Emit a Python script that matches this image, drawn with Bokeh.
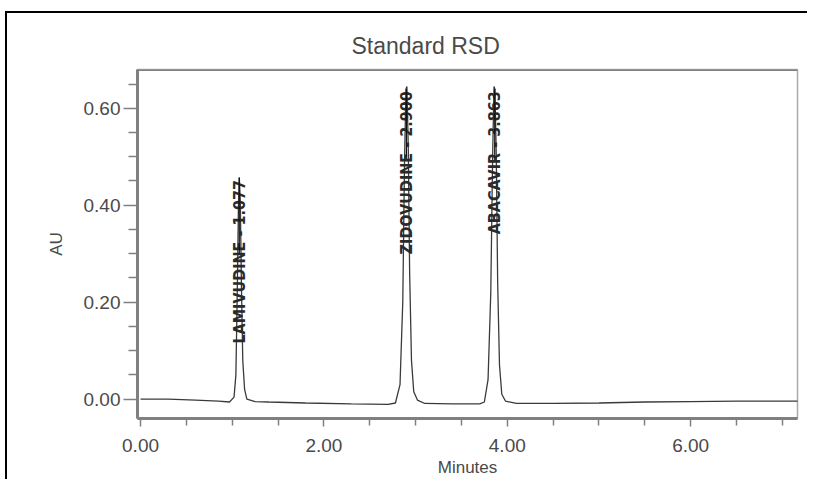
from bokeh.plotting import figure
from bokeh.models import FixedTicker, NumeralTickFormatter, ColumnDataSource, Span, Range1d
from bokeh.core.properties import value
from bokeh.embed import file_html
from bokeh.resources import INLINE

# Chromatogram trace (minutes, AU)
time_min = [0.00, 0.30, 0.60, 0.85, 0.97, 1.02, 1.04, 1.055, 1.068, 1.077, 1.088, 1.10, 1.115, 1.135,
            1.16, 1.25, 1.40, 1.80, 2.30, 2.70, 2.78, 2.83, 2.86, 2.88, 2.895, 2.905, 2.92,
            2.935, 2.955, 2.98, 3.02, 3.10, 3.40, 3.70, 3.75, 3.79, 3.82, 3.84, 3.855, 3.865,
            3.88, 3.895, 3.915, 3.94, 3.98, 4.10, 4.50, 5.00, 5.50, 6.00, 6.50, 7.17]
au = [0.000, 0.000, -0.002, -0.004, -0.006, 0.004, 0.05, 0.22, 0.40, 0.457, 0.41, 0.24, 0.08, 0.02,
      0.000, -0.005, -0.006, -0.008, -0.010, -0.011, -0.008, 0.03, 0.20, 0.50, 0.64, 0.645, 0.52,
      0.26, 0.08, 0.015, -0.002, -0.009, -0.010, -0.010, -0.006, 0.04, 0.22, 0.50, 0.645, 0.64,
      0.50, 0.24, 0.07, 0.01, -0.004, -0.009, -0.009, -0.008, -0.006, -0.005, -0.004, -0.004]

# Peak annotations
peak_names = ["LAMIVUDINE - 1.077", "ZIDOVUDINE - 2.900", "ABACAVIR - 3.863"]
peak_rt = [1.077, 2.900, 3.863]
peak_top = [0.452, 0.635, 0.635]

x_major = [0, 2, 4, 6]
x_minor = [0.5, 1.0, 1.5, 2.5, 3.0, 3.5, 4.5, 5.0, 5.5, 6.5, 7.0]
y_major = [0.0, 0.2, 0.4, 0.6]
y_minor = [0.05, 0.10, 0.15, 0.25, 0.30, 0.35, 0.45, 0.50, 0.55, 0.65]

TXT = "#4a4a4a"
AX = "#808080"

p = figure(width=800, height=468, output_backend="svg", toolbar_location=None,
           x_range=Range1d(-0.033, 7.165), y_range=Range1d(-0.04, 0.68),
           title="Standard RSD",
           styles={"border-left": "2px solid black", "border-top": "2px solid black",
                   "margin-top": "11px", "margin-left": "5px"})
p.min_border_left = 130
p.min_border_right = 10
p.min_border_top = 56
p.min_border_bottom = 60
p.frame_width = 660
p.frame_height = 349

p.title.align = "left"
p.title.offset = 214
p.title.text_font = "Liberation Sans"
p.title.text_font_size = "23px"
p.title.text_font_style = "normal"
p.title.text_color = TXT
p.title.standoff = 21

p.grid.visible = False
p.outline_line_color = "#aaaaaa"
p.outline_line_width = 1.5

p.line(time_min, au, line_color="#3a3a3a", line_width=1.3)

src = ColumnDataSource(dict(x=peak_rt, y=peak_top, t=peak_names))
p.text(x="x", y="y", text="t", source=src, angle=1.5708, text_align="right",
       text_baseline="middle", text_font=value("DejaVu Sans Condensed"),
       text_font_style="bold", text_font_size="16px", text_color="#2a2a2a")
p.segment(x0=peak_rt, y0=[0.3, 0.5, 0.5], x1=peak_rt, y1=[h + 0.005 for h in peak_top],
          line_color="#111111", line_width=1.2)

p.add_layout(Span(location=0.68, dimension="width", line_color=AX, line_width=3))

for ax in (p.xaxis[0], p.yaxis[0]):
    ax.axis_line_color = AX
    ax.axis_line_width = 3
    ax.major_tick_line_color = AX
    ax.minor_tick_line_color = AX
    ax.major_tick_line_width = 1.5
    ax.minor_tick_line_width = 1.5
    ax.major_tick_in = 0
    ax.minor_tick_in = 0
    ax.major_label_text_font = "Liberation Sans"
    ax.major_label_text_font_size = "19px"
    ax.major_label_text_color = TXT
    ax.axis_label_text_font = "Liberation Sans"
    ax.axis_label_text_font_style = "normal"
    ax.axis_label_text_font_size = "17px"
    ax.axis_label_text_color = TXT
    ax.formatter = NumeralTickFormatter(format="0.00")

p.xaxis.ticker = FixedTicker(ticks=x_major, minor_ticks=x_minor)
p.yaxis.ticker = FixedTicker(ticks=y_major, minor_ticks=y_minor)
p.xaxis.axis_label = "Minutes"
p.yaxis.axis_label = "AU"
p.xaxis.major_tick_out = 8
p.xaxis.minor_tick_out = 7
p.yaxis.major_tick_out = 14
p.yaxis.minor_tick_out = 9
p.xaxis.major_label_standoff = 12
p.xaxis.axis_label_standoff = 3
p.yaxis.major_label_standoff = 3
p.yaxis.axis_label_standoff = 15

open("out.html", "w").write(file_html(p, INLINE))
